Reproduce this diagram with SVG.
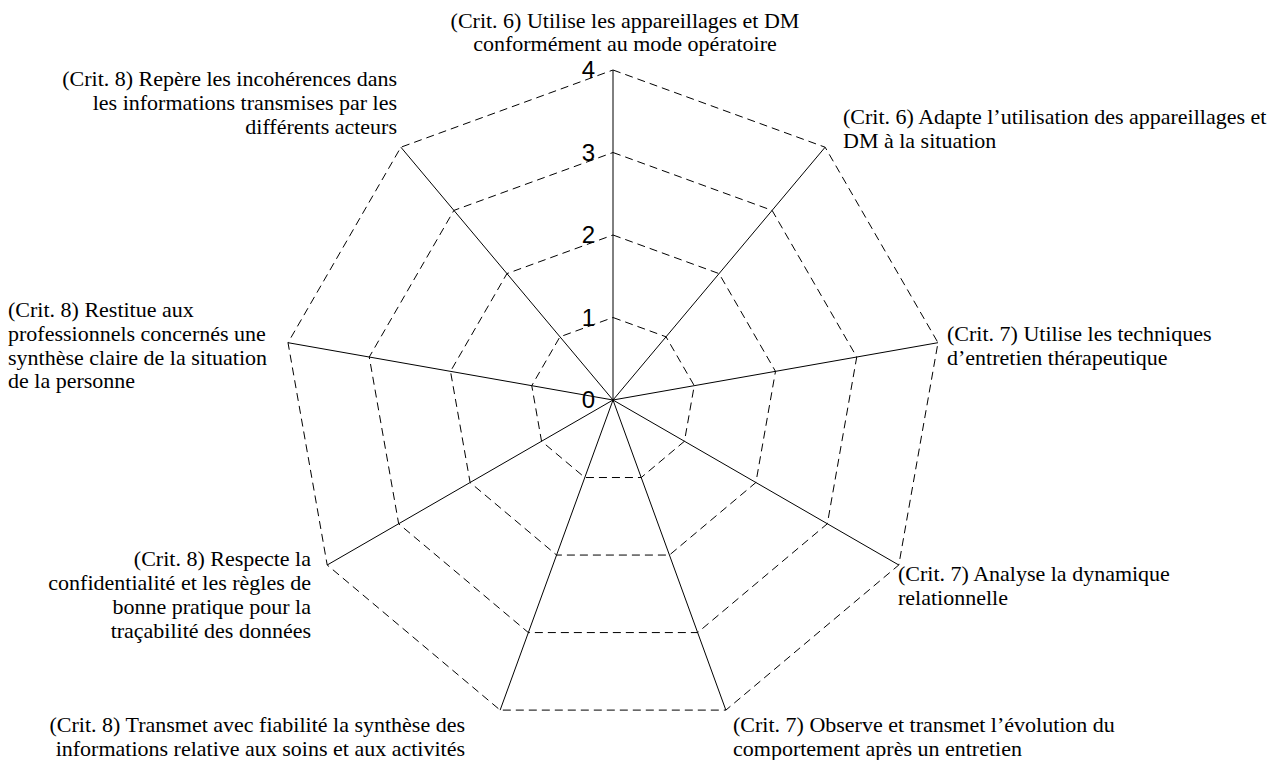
<svg xmlns="http://www.w3.org/2000/svg" width="1267" height="760" viewBox="0 0 1267 760">
<style>
.grid{fill:none;stroke:#000;stroke-width:1;stroke-dasharray:8 5}
.axis{stroke:#000;stroke-width:1}
.lbl{font-family:"Liberation Serif","Times New Roman",serif;font-size:22px;fill:#000}
.num{font-family:"Liberation Sans",Arial,sans-serif;font-size:24px;fill:#000;text-anchor:end}
.end{text-anchor:end}
.mid{text-anchor:middle}
</style>
<rect width="1267" height="760" fill="#fff"/>
<g id="grid">
<polygon class="grid" points="613,317.5 666.03,336.8 694.25,385.67 684.45,441.25 641.22,477.52 584.78,477.52 541.55,441.25 531.75,385.67 559.97,336.8"/>
<polygon class="grid" points="613,235 719.06,273.6 775.49,371.35 755.89,482.5 669.43,555.05 556.57,555.05 470.11,482.5 450.51,371.35 506.94,273.6"/>
<polygon class="grid" points="613,152.5 772.09,210.4 856.74,357.02 827.34,523.75 697.65,632.57 528.35,632.57 398.66,523.75 369.26,357.02 453.91,210.4"/>
<polygon class="grid" points="613,70 825.12,147.21 937.99,342.7 898.79,565 725.87,710.1 500.13,710.1 327.21,565 288.01,342.7 400.88,147.21"/>
</g>
<g id="connectors">
<line class="axis" x1="613" y1="400" x2="613" y2="70"/>
<line class="axis" x1="613" y1="400" x2="825.12" y2="147.21"/>
<line class="axis" x1="613" y1="400" x2="937.99" y2="342.7"/>
<line class="axis" x1="613" y1="400" x2="898.79" y2="565"/>
<line class="axis" x1="613" y1="400" x2="725.87" y2="710.1"/>
<line class="axis" x1="613" y1="400" x2="500.13" y2="710.1"/>
<line class="axis" x1="613" y1="400" x2="327.21" y2="565"/>
<line class="axis" x1="613" y1="400" x2="288.01" y2="342.7"/>
<line class="axis" x1="613" y1="400" x2="400.88" y2="147.21"/>
</g>
<g id="scale">
<text class="num" x="595" y="408">0</text>
<text class="num" x="595" y="325.5">1</text>
<text class="num" x="595" y="243">2</text>
<text class="num" x="595" y="160.5">3</text>
<text class="num" x="595" y="78">4</text>
</g>
<g id="c1"><text class="lbl mid" x="625" y="28">(Crit. 6) Utilise les appareillages et DM<tspan x="625" y="51">conformément au mode opératoire</tspan></text></g>
<g id="c2"><text class="lbl" x="843" y="124">(Crit. 6) Adapte l’utilisation des appareillages et<tspan x="843" y="148">DM à la situation</tspan></text></g>
<g id="c3"><text class="lbl" x="947" y="341">(Crit. 7) Utilise les techniques<tspan x="947" y="365">d’entretien thérapeutique</tspan></text></g>
<g id="c4"><text class="lbl" x="898" y="581">(Crit. 7) Analyse la dynamique<tspan x="898" y="605">relationnelle</tspan></text></g>
<g id="c5"><text class="lbl" x="733" y="732">(Crit. 7) Observe et transmet l’évolution du<tspan x="733" y="755.5">comportement après un entretien</tspan></text></g>
<g id="c6"><text class="lbl end" x="465" y="732">(Crit. 8) Transmet avec fiabilité la synthèse des<tspan x="465" y="755.5">informations relative aux soins et aux activités</tspan></text></g>
<g id="c7"><text class="lbl end" x="311" y="566">(Crit. 8) Respecte la<tspan x="311" y="590">confidentialité et les règles de</tspan><tspan x="311" y="614">bonne pratique pour la</tspan><tspan x="311" y="638">traçabilité des données</tspan></text></g>
<g id="c8"><text class="lbl" x="8" y="317">(Crit. 8) Restitue aux<tspan x="8" y="341">professionnels concernés une</tspan><tspan x="8" y="364.5">synthèse claire de la situation</tspan><tspan x="8" y="388">de la personne</tspan></text></g>
<g id="c9"><text class="lbl end" x="397" y="86">(Crit. 8) Repère les incohérences dans<tspan x="397" y="110">les informations transmises par les</tspan><tspan x="397" y="133.5">différents acteurs</tspan></text></g>
</svg>
